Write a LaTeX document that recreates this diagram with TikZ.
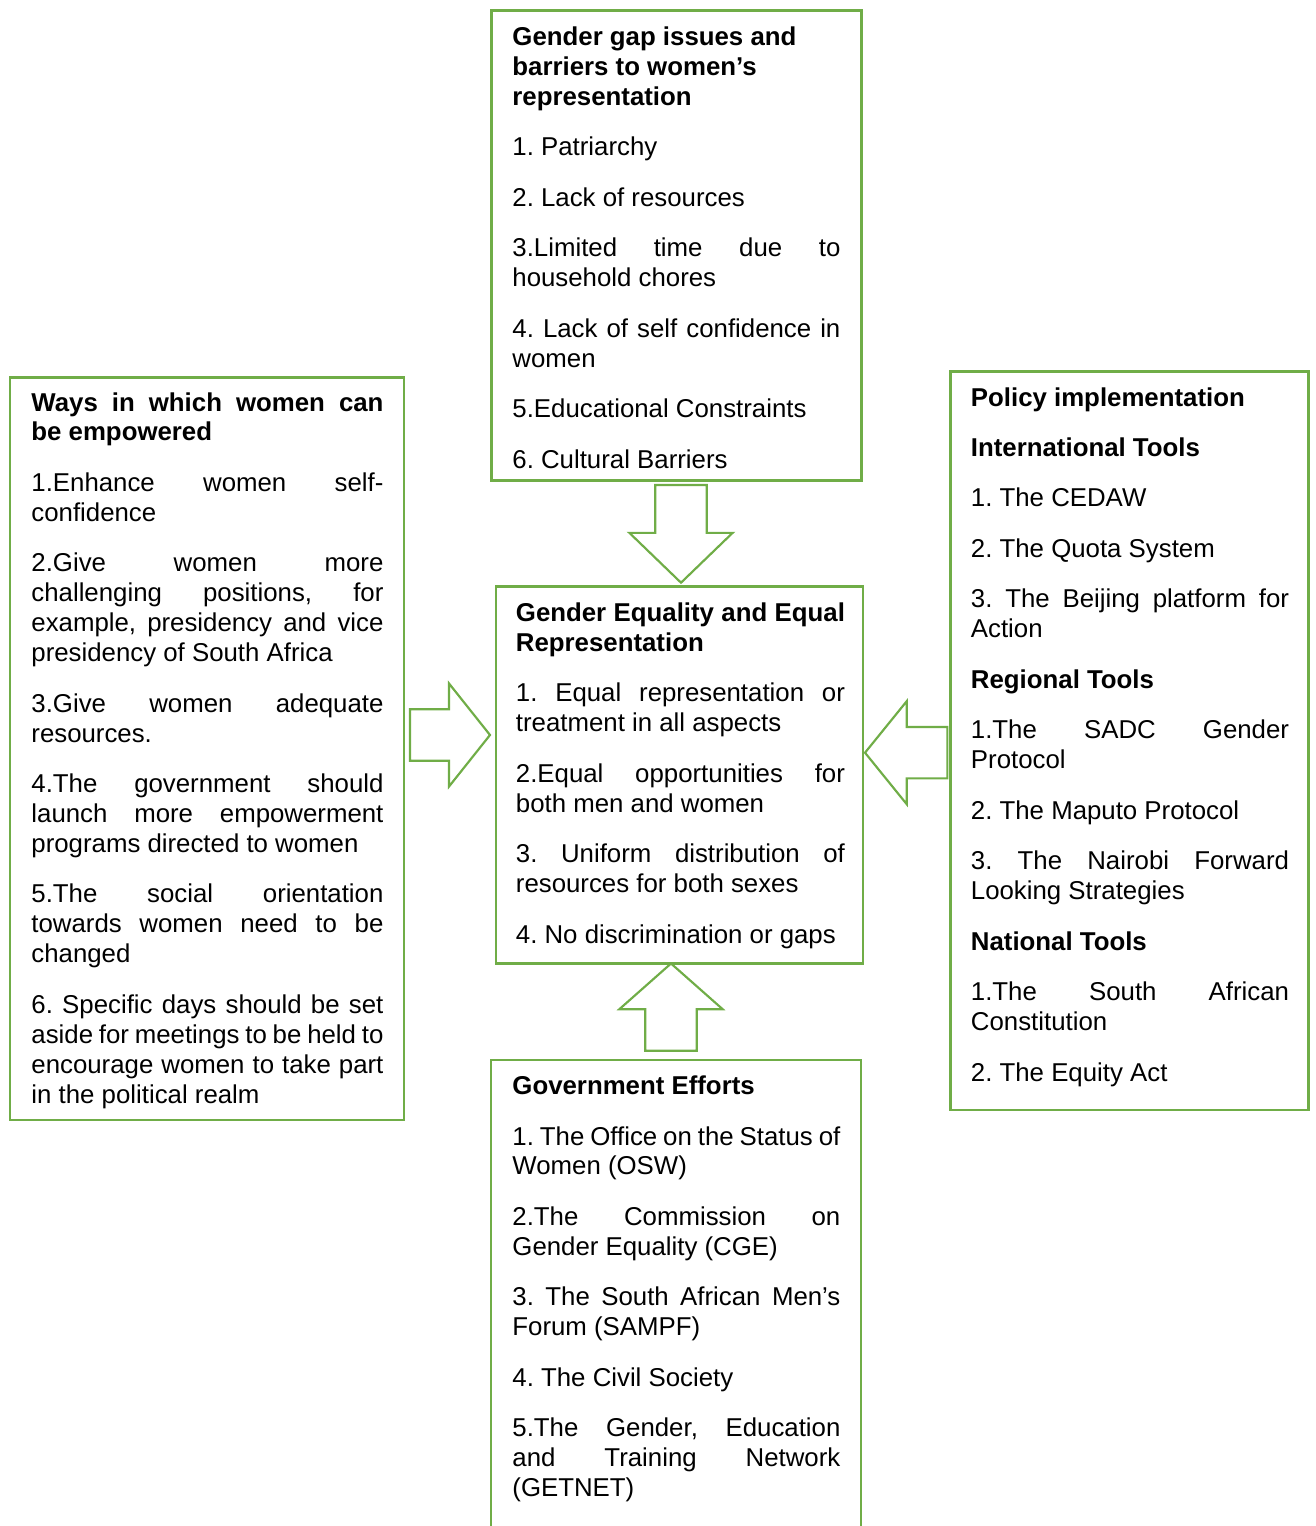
\documentclass[tikz,border=0pt]{standalone}
\usepackage{fontspec}
\setmainfont{Liberation Sans}
\usepackage{tikz}
\usetikzlibrary{fit,shapes.arrows}
\definecolor{boxgreen}{HTML}{70AD47}
\hbadness=10000
\hyphenpenalty=10000
\frenchspacing

\begin{document}
\begin{tikzpicture}
		[x=0.465pt, y=-0.465pt,
		frame/.style= {draw=boxgreen, line width=1.3pt, inner sep=0pt},
		txt/.style= {anchor=base west, inner sep=0pt, align=justify,
			font=\fontsize{12pt}{13.92pt}\selectfont,
			execute at begin node={\frenchspacing\setlength{\parskip}{9.56pt}}},
		blk/.style= {single arrow, draw=boxgreen, line width=1pt, fill=white,
			inner sep=11.45pt, outer sep=0pt, minimum width=1pt,
			single arrow head extend=12.05pt, anchor=tip}]

		\useasboundingbox (0,0) rectangle (1315,1526);
		\clip (0,0) rectangle (1315,1526);

		\node[frame, fit={(491.5,10.5) (861.5,480.5)}] (barriers) {}
		;
		\node[frame, fit={(496,586.7) (863,963.3)}] (equality) {}
		;
		\node[frame, fit={(10,377.3) (404,1120)}] (ways) {}
		;
		\node[frame, fit={(950.7,371.7) (1308.5,1110)}] (policy) {}
		;
		\node[frame, fit={(491,1060) (861,1560)}] (efforts) {}
		;

		\node[txt, text width=152.5pt] (barriers-txt) at (512,45.5)
			{{\bfseries Gender gap issues and\newline barriers to women’s\newline representation\par}
			1. Patriarchy\par
			2. Lack of resources\par
			3.Limited time due to\linebreak household chores\par
			4. Lack of self confidence in\linebreak women\par
			5.Educational Constraints\par
			6. Cultural Barriers}
		;

		\node[txt, text width=153pt] (equality-txt) at (515.5,621.5)
			{{\bfseries Gender Equality and Equal\linebreak Representation\par}
			1. Equal representation or\linebreak treatment in all aspects\par
			2.Equal opportunities for\linebreak both men and women\par
			3. Uniform distribution of\linebreak resources for both sexes\par
			4. No discrimination or gaps}
		;

		\node[txt, text width=163.7pt] (ways-txt) at (31,411)
			{{\bfseries Ways in which women can\linebreak be empowered\par}
			1.Enhance women self-\linebreak confidence\par
			2.Give women more\linebreak challenging positions, for\linebreak example, presidency and vice\linebreak presidency of South Africa\par
			3.Give women adequate\linebreak resources.\par
			4.The government should\linebreak launch more empowerment\linebreak programs directed to women\par
			5.The social orientation\linebreak towards women need to be\linebreak changed\par
			6. Specific days should be set\linebreak aside for meetings to be held to\linebreak encourage women to take part\linebreak in the political realm}
		;

		\node[txt, text width=147.9pt] (policy-txt) at (970.5,406)
			{{\bfseries Policy implementation\par}
			{\bfseries International Tools\par}
			1. The CEDAW\par
			2. The Quota System\par
			3. The Beijing platform for\linebreak Action\par
			{\bfseries Regional Tools\par}
			1.The SADC Gender\linebreak Protocol\par
			2. The Maputo Protocol\par
			3. The Nairobi Forward\linebreak Looking Strategies\par
			{\bfseries National Tools\par}
			1.The South African\linebreak Constitution\par
			2. The Equity Act}
		;

		\node[txt, text width=152.5pt] (efforts-txt) at (512,1094.5)
			{{\bfseries Government Efforts\par}
			1. The Office on the Status of\linebreak Women (OSW)\par
			2.The Commission on\linebreak Gender Equality (CGE)\par
			3. The South African Men’s\linebreak Forum (SAMPF)\par
			4. The Civil Society\par
			5.The Gender, Education\linebreak and Training Network\linebreak (GETNET)}
		;

		\node[blk, shape border rotate=270, minimum height=45.4pt,
			single arrow tip angle=92] (a-barriers) at (681,582.7) {}
		;
		\node[blk, shape border rotate=0, minimum height=37.2pt,
			single arrow tip angle=103] (a-ways) at (490,735) {}
		;
		\node[blk, shape border rotate=180, minimum height=38.3pt,
			single arrow tip angle=102] (a-policy) at (865,752.7) {}
		;
		\node[blk, shape border rotate=90, minimum height=40.6pt,
			single arrow tip angle=97] (a-efforts) at (671,963.5) {}
		;

	\end{tikzpicture}
\end{document}
